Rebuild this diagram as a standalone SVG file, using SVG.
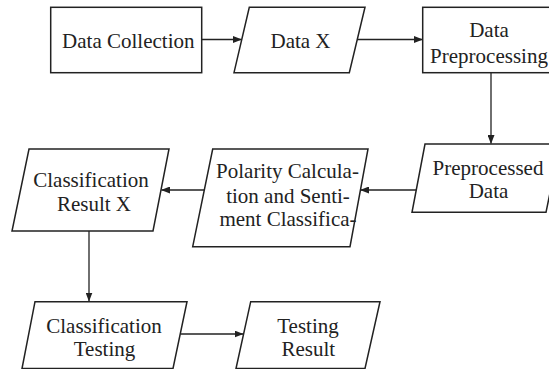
<svg xmlns="http://www.w3.org/2000/svg" width="549" height="369" viewBox="0 0 549 369">
<style>
.box{fill:#fff;stroke:#222;stroke-width:1.5;stroke-linejoin:miter}
.lbl{font-family:"Liberation Serif","Times New Roman",serif;font-size:21px;fill:#222;text-anchor:middle}
.conn{fill:none;stroke:#222;stroke-width:1.3}
</style>
<defs>
<marker id="arr" markerUnits="userSpaceOnUse" markerWidth="9" markerHeight="7" refX="8.5" refY="3.5" orient="auto">
<path d="M0,0 L9,3.5 L0,7 Z" fill="#222"/>
</marker>
</defs>
<rect width="549" height="369" fill="#fff"/>
<g id="connectors">
<line class="conn" x1="201.7" y1="39.5" x2="241.5" y2="39.5" marker-end="url(#arr)"/>
<line class="conn" x1="357" y1="39.5" x2="422.5" y2="39.5" marker-end="url(#arr)"/>
<line class="conn" x1="491" y1="72.7" x2="491" y2="143.5" marker-end="url(#arr)"/>
<line class="conn" x1="416.2" y1="190" x2="360.5" y2="190" marker-end="url(#arr)"/>
<line class="conn" x1="204.3" y1="190" x2="161.5" y2="190" marker-end="url(#arr)"/>
<line class="conn" x1="89" y1="231" x2="89" y2="301" marker-end="url(#arr)"/>
<line class="conn" x1="180.5" y1="334" x2="243" y2="334" marker-end="url(#arr)"/>
</g>
<g id="data-collection">
<rect class="box" x="50.7" y="7.3" width="151" height="65.4"/>
<text class="lbl" x="128.3" y="48">Data Collection</text>
</g>
<g id="data-x">
<polygon class="box" points="249.3,7.3 365,7.3 349.3,72.7 234,72.7"/>
<text class="lbl" x="300.5" y="47.7">Data X</text>
</g>
<g id="data-preprocessing">
<rect class="box" x="422.7" y="7.3" width="136" height="65.4"/>
<text class="lbl" x="489" y="37">Data</text>
<text class="lbl" x="489" y="62.7">Preprocessing</text>
</g>
<g id="preprocessed-data">
<polygon class="box" points="425,144 560,144 546,212.3 412,212.3"/>
<text class="lbl" x="488" y="175">Preprocessed</text>
<text class="lbl" x="488.5" y="198">Data</text>
</g>
<g id="polarity">
<polygon class="box" points="212.7,149 368,149 350,246.7 192.7,246.7"/>
<text class="lbl" x="287.5" y="178.3">Polarity Calcula-</text>
<text class="lbl" x="288" y="202.5">tion and Senti-</text>
<text class="lbl" x="288" y="226">ment Classifica-</text>
</g>
<g id="classification-result">
<polygon class="box" points="29,149 169,149 153,231 12,231"/>
<text class="lbl" x="91" y="187">Classification</text>
<text class="lbl" x="94" y="211">Result X</text>
</g>
<g id="classification-testing">
<polygon class="box" points="35,301.7 187,301.7 173,368.5 22,368.5"/>
<text class="lbl" x="104" y="333.3">Classification</text>
<text class="lbl" x="104.5" y="355.5">Testing</text>
</g>
<g id="testing-result">
<polygon class="box" points="250.7,301.7 380,301.7 365,368.5 236,368.5"/>
<text class="lbl" x="308" y="332.7">Testing</text>
<text class="lbl" x="308.3" y="356">Result</text>
</g>
</svg>
